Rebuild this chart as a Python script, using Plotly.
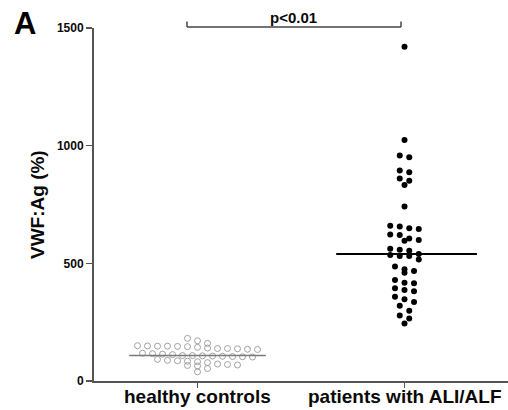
import numpy as np
import plotly.graph_objects as go

categories = ["healthy controls", "patients with ALI/ALF"]
healthy_values = [181, 171, 160, 150, 149, 148, 148, 147, 146, 143, 140, 138, 138, 137, 135, 134,
                  118, 116, 114, 112, 108, 108, 107, 106, 105, 104, 103, 102,
                  92, 88, 86, 84, 82, 78, 72, 70, 68, 66, 64, 53, 39]
patient_values = [1420, 1024, 958, 951, 895, 887, 860, 851, 833, 742, 660, 656, 649, 646,
                  623, 620, 606, 599, 596, 562, 558, 554, 540, 535, 531, 531, 516, 487, 475,
                  467, 460, 429, 418, 415, 394, 387, 381, 358, 347, 336, 320, 299, 278, 266, 244]
y_ticks = [0, 500, 1000, 1500]
p_label = "p<0.01"
y_title = "VWF:Ag (%)"
panel_label = "A"


def swarm_offsets(values, row_height, step):
    """Group sorted values into horizontal rows and center each row."""
    vals = sorted(values, reverse=True)
    rows, current = [], []
    for v in vals:
        if current and current[0] - v > row_height:
            rows.append(current)
            current = []
        current.append(v)
    if current:
        rows.append(current)
    xs, ys = [], []
    for row in rows:
        n = len(row)
        for i, v in enumerate(row):
            xs.append((i - (n - 1) / 2) * step)
            ys.append(v)
    return np.array(xs), np.array(ys)


STEP = 0.046
hx, hy = swarm_offsets(healthy_values, 25, STEP * 1.05)
px, py = swarm_offsets(patient_values, 25, STEP)

fig = go.Figure()
fig.add_trace(go.Scatter(
    x=0 + hx, y=hy, mode="markers",
    marker=dict(symbol="circle-open", size=6, color="#a0a0a0", line=dict(width=1, color="#a0a0a0")),
    showlegend=False, hoverinfo="y"))
fig.add_trace(go.Scatter(
    x=1 + px, y=py, mode="markers",
    marker=dict(symbol="circle", size=6, color="#000000"),
    showlegend=False, hoverinfo="y"))

h_med = float(np.median(healthy_values))
p_med = float(np.median(patient_values))
fig.add_trace(go.Scatter(x=[-0.33, 0.33], y=[h_med, h_med], mode="lines",
                         line=dict(color="#7a7a7a", width=1.5), showlegend=False, hoverinfo="skip"))
fig.add_trace(go.Scatter(x=[1 - 0.33, 1 + 0.35], y=[p_med, p_med], mode="lines",
                         line=dict(color="#000000", width=2), showlegend=False, hoverinfo="skip"))

W, H = 508, 410
L, R, T, B = 94, 0, 28, 29
pw, ph = W - L - R, H - T - B


def paper_x(px_):
    return (px_ - L) / pw


def paper_y(py_):
    return (H - B - py_) / ph


axis_col = "#555555"
text_col = "#0a0a0a"
fig.update_layout(
    width=W, height=H,
    margin=dict(l=L, r=R, t=T, b=B, pad=0),
    paper_bgcolor="white", plot_bgcolor="white",
    font=dict(family="Liberation Sans, Arial, sans-serif", color=text_col),
    xaxis=dict(range=[-0.5, 1.5], tickvals=[0, 1], showticklabels=False,
               showgrid=False, zeroline=False, showline=True, linecolor=axis_col, linewidth=2,
               ticks="outside", ticklen=5, tickwidth=1.5, tickcolor=axis_col,
               automargin=False, fixedrange=True),
    yaxis=dict(range=[0, 1500], tickvals=y_ticks, ticktext=["<b>%d</b>" % t for t in y_ticks],
               showgrid=False, zeroline=False, showline=True, linecolor=axis_col, linewidth=2,
               ticks="outside", ticklen=6, tickwidth=1.5, tickcolor=axis_col,
               tickfont=dict(size=12, color=text_col), automargin=False, fixedrange=True),
    showlegend=False,
)

# category labels under the x axis
for i, c in enumerate(categories):
    fig.add_annotation(text="<b>%s</b>" % c, xref="x", yref="paper",
                       x=i, y=paper_y(397), xanchor="center", yanchor="middle",
                       showarrow=False, font=dict(size=19, color=text_col))

# significance bracket
bx0, bx1, by, btop = 187, 401, 27, 21.5
for (x0, y0, x1, y1) in [(bx0, by, bx1, by), (bx0, btop, bx0, by), (bx1, btop, bx1, by)]:
    fig.add_shape(type="line", xref="paper", yref="paper",
                  x0=paper_x(x0), y0=paper_y(y0), x1=paper_x(x1), y1=paper_y(y1),
                  line=dict(color="#444444", width=1.5))

fig.add_annotation(text="<b>%s</b>" % p_label, xref="paper", yref="paper",
                   x=paper_x(293), y=paper_y(18), xanchor="center", yanchor="middle",
                   showarrow=False, font=dict(size=15, color=text_col))
fig.add_annotation(text="<b>%s</b>" % y_title, xref="paper", yref="paper",
                   x=paper_x(37), y=paper_y(205), xanchor="center", yanchor="middle",
                   textangle=-90, showarrow=False, font=dict(size=19, color=text_col))
fig.add_annotation(text="<b>%s</b>" % panel_label, xref="paper", yref="paper",
                   x=paper_x(25), y=paper_y(23), xanchor="center", yanchor="middle",
                   showarrow=False, font=dict(size=31, color="#000000"))

# remove the default page margin so the figure fills the 508x410 window exactly
fig.write_html("out.html",
               config={"displayModeBar": False, "staticPlot": True},
               post_script="document.body.style.margin='0';document.body.style.padding='0';")
